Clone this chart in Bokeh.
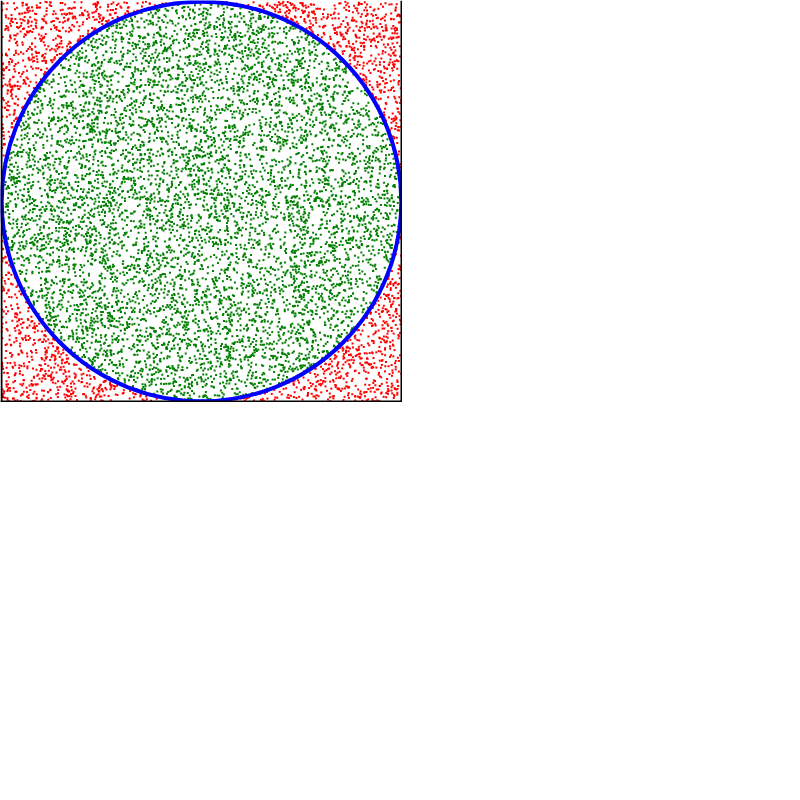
import numpy as np
from bokeh.plotting import figure
from bokeh.models import Span, ColumnDataSource
from bokeh.embed import file_html
from bokeh.resources import INLINE

# Monte Carlo sample of the unit square [-1, 1]^2.
# The individual points of the reference cannot be transcribed, so a seeded
# uniform sample of the estimated size (about 10000 points) stands in for them.
n_points = 10000
rng = np.random.default_rng(12345)
xs = rng.uniform(-1, 1, n_points)
ys = rng.uniform(-1, 1, n_points)
inside = xs**2 + ys**2 <= 1

circle_center_x = [0.0]
circle_center_y = [0.0]
circle_radius = [1.0]

pad = 0.006
px = (2 + 2 * pad) / 402.0
p = figure(width=402, height=402, output_backend="svg", toolbar_location=None,
           x_range=(-1 - pad, 1 + pad), y_range=(-1 - pad, 1 + pad),
           min_border=0, min_border_left=0, min_border_right=0,
           min_border_top=0, min_border_bottom=0)
p.axis.visible = False
p.grid.visible = False
p.outline_line_color = None
p.background_fill_color = "white"
p.border_fill_color = "white"

src_out = ColumnDataSource(dict(x=xs[~inside], y=ys[~inside]))
src_in = ColumnDataSource(dict(x=xs[inside], y=ys[inside]))
p.scatter("x", "y", source=src_out, marker="square", size=2,
          fill_color="#ff0000", line_color=None)
p.scatter("x", "y", source=src_in, marker="square", size=2,
          fill_color="#008000", line_color=None)

p.circle(x=circle_center_x, y=circle_center_y, radius=circle_radius,
         fill_color=None, line_color="#0000ff", line_width=4)

for loc, dim in [(-1 - pad + px, "height"), (1 + pad - px, "height"), (-1 - pad + px, "width")]:
    p.add_layout(Span(location=loc, dimension=dim, line_color="black", line_width=2))

open("out.html", "w").write(file_html(p, INLINE))
